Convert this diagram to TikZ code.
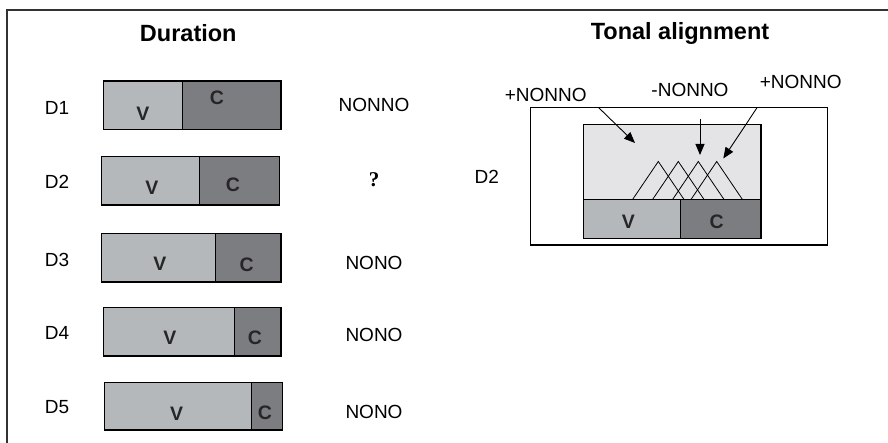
\documentclass[tikz,border=0pt]{standalone}
\usepackage{fontspec}
\setmainfont{Liberation Sans}
\newfontfamily\qfont{Liberation Serif}
\usetikzlibrary{arrows.meta}

\definecolor{vgray}{RGB}{181,184,187}
\definecolor{cgray}{RGB}{124,125,129}
\definecolor{bggray}{RGB}{228,228,230}
\definecolor{framegray}{RGB}{50,50,50}

\begin{document}
\begin{tikzpicture}[x=1pt,y=-1pt]
\useasboundingbox (0,0) rectangle (888,443);

\tikzset{BoxStyle/.style = {draw = black, line width = 1.3pt},
 LabelStyle/.style = {inner sep = 0pt, font = \fontsize{19}{22}\selectfont},
 SegStyle/.style = {inner sep = 0pt, text = black!85, font = \fontsize{19.5}{22}\selectfont\bfseries},
 TitleStyle/.style = {inner sep = 0pt, font = \fontsize{23.5}{27}\selectfont\bfseries},
 ArrowStyle/.style = {line width = 0.9pt, -{Triangle[length=11pt,width=9pt]}},
 PeakStyle/.style = {line width = 0.8pt} }

% open frame
\draw[framegray, line width = 1.4pt] (888,10) -- (7,10) -- (7,443);

\node[TitleStyle] (T1) at (188.3,33) {Duration};
\node[TitleStyle] (T2) at (680,33) {Tonal alignment};

% duration rows
\filldraw[BoxStyle, fill=vgray] (103.3,81) rectangle (182.3,129.3);
\filldraw[BoxStyle, fill=cgray] (182.3,81) rectangle (281,129.3);
\filldraw[BoxStyle, fill=vgray] (101.7,156.7) rectangle (199.3,205);
\filldraw[BoxStyle, fill=cgray] (199.3,156.7) rectangle (279.3,205);
\filldraw[BoxStyle, fill=vgray] (101.7,233.3) rectangle (215.7,282);
\filldraw[BoxStyle, fill=cgray] (215.7,233.3) rectangle (281,282);
\filldraw[BoxStyle, fill=vgray] (103.3,307.7) rectangle (234.3,356);
\filldraw[BoxStyle, fill=cgray] (234.3,307.7) rectangle (281,356);
\filldraw[BoxStyle, fill=vgray] (104.3,382.3) rectangle (251.7,430);
\filldraw[BoxStyle, fill=cgray] (251.7,382.3) rectangle (282.7,430);

\node[LabelStyle] (D1) at (57,108) {D1};
\node[LabelStyle] (D2) at (57,181.5) {D2};
\node[LabelStyle] (D3) at (57,260) {D3};
\node[LabelStyle] (D4) at (57,333) {D4};
\node[LabelStyle] (D5) at (57,406.7) {D5};

\node[SegStyle] (V1) at (143,114) {V};
\node[SegStyle] (C1) at (217,97.5) {C};
\node[SegStyle] (V2) at (152,188) {V};
\node[SegStyle] (C2) at (233,185) {C};
\node[SegStyle] (V3) at (160,263.3) {V};
\node[SegStyle] (C3) at (246.7,265) {C};
\node[SegStyle] (V4) at (170,338) {V};
\node[SegStyle] (C4) at (255,338) {C};
\node[SegStyle] (V5) at (176.7,413.3) {V};
\node[SegStyle] (C5) at (265,412.7) {C};

\node[LabelStyle] (R1) at (374,105) {NONNO};
\node[inner sep = 0pt, font = \qfont\fontsize{21}{24}\selectfont\bfseries] (R2) at (374,180) {?};
\node[LabelStyle] (R3) at (374,262.7) {NONO};
\node[LabelStyle] (R4) at (374,335) {NONO};
\node[LabelStyle] (R5) at (374,411.7) {NONO};

% tonal alignment
\draw[line width = 1.2pt] (530.7,107.3) rectangle (827.7,245);
\filldraw[BoxStyle, fill=bggray] (583.3,124.3) rectangle (761,199.3);
\foreach \p in {658.3,678.3,698.3,716.7}
 \draw[PeakStyle] (\p-25.6,199.3) -- (\p,161.5) -- (\p+25.6,199.3);
\filldraw[BoxStyle, fill=vgray] (583.3,199.3) rectangle (680.7,238.3);
\filldraw[BoxStyle, fill=cgray] (680.7,199.3) rectangle (761,238.3);

\node[SegStyle] (VT) at (628.3,221.7) {V};
\node[SegStyle] (CT) at (716.7,221.7) {C};
\node[LabelStyle] (DT) at (486.7,176.7) {D2};

\node[LabelStyle] (P1) at (545.8,95) {+NONNO};
\node[LabelStyle] (M1) at (690,90) {-NONNO};
\node[LabelStyle] (P2) at (800.8,81.7) {+NONNO};

\coordinate (A1_s) at (598.3,107.3);
\coordinate (A1_e) at (635,143);
\coordinate (A2_s) at (700,119.3);
\coordinate (A2_e) at (700,155);
\coordinate (A3_s) at (757.3,107.3);
\coordinate (A3_e) at (723.3,158.5);

\draw[ArrowStyle] (A1_s) -- (A1_e);
\draw[ArrowStyle] (A2_s) -- (A2_e);
\draw[ArrowStyle] (A3_s) -- (A3_e);

\end{tikzpicture}
\end{document}
